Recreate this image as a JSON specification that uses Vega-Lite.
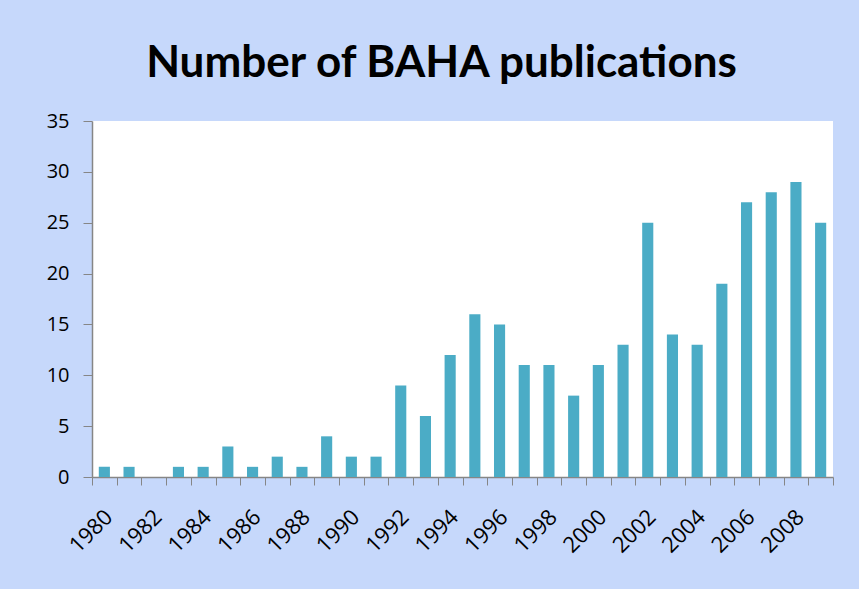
{
  "$schema": "https://vega.github.io/schema/vega-lite/v6.json",
  "width": 741,
  "height": 356,
  "autosize": {"type": "none"},
  "padding": {"left": 92, "top": 121, "right": 26, "bottom": 112},
  "background": "#c6d8fb",
  "title": {
    "text": "Number of BAHA publications",
    "font": "Lato",
    "fontSize": 44,
    "fontWeight": "bold",
    "color": "#000000",
    "anchor": "middle",
    "offset": 25,
    "dx": -21
  },
  "data": {
    "values": [
      {"year": "1980", "count": 1},
      {"year": "1981", "count": 1},
      {"year": "1982", "count": 0},
      {"year": "1983", "count": 1},
      {"year": "1984", "count": 1},
      {"year": "1985", "count": 3},
      {"year": "1986", "count": 1},
      {"year": "1987", "count": 2},
      {"year": "1988", "count": 1},
      {"year": "1989", "count": 4},
      {"year": "1990", "count": 2},
      {"year": "1991", "count": 2},
      {"year": "1992", "count": 9},
      {"year": "1993", "count": 6},
      {"year": "1994", "count": 12},
      {"year": "1995", "count": 16},
      {"year": "1996", "count": 15},
      {"year": "1997", "count": 11},
      {"year": "1998", "count": 11},
      {"year": "1999", "count": 8},
      {"year": "2000", "count": 11},
      {"year": "2001", "count": 13},
      {"year": "2002", "count": 25},
      {"year": "2003", "count": 14},
      {"year": "2004", "count": 13},
      {"year": "2005", "count": 19},
      {"year": "2006", "count": 27},
      {"year": "2007", "count": 28},
      {"year": "2008", "count": 29},
      {"year": "2009", "count": 25}
    ]
  },
  "mark": {"type": "bar", "color": "#4bacc6", "width": {"band": 0.45}},
  "encoding": {
    "x": {
      "field": "year",
      "type": "ordinal",
      "scale": {"paddingInner": 0, "paddingOuter": 0},
      "axis": {
        "title": null,
        "labelExpr": "parseInt(datum.label) % 2 == 0 ? datum.label : ''",
        "labelAngle": -45,
        "labelFont": "Open Sans",
        "labelFontSize": 22,
        "labelColor": "#000000",
        "labelPadding": 21,
        "labelOffset": -3,
        "tickBand": "extent",
        "tickSize": 8,
        "tickColor": "#868686",
        "domainColor": "#868686",
        "domainWidth": 1.5,
        "labelOverlap": false
      }
    },
    "y": {
      "field": "count",
      "type": "quantitative",
      "scale": {"domain": [0, 35], "nice": false},
      "axis": {
        "title": null,
        "values": [0, 5, 10, 15, 20, 25, 30, 35],
        "grid": false,
        "labelFont": "Open Sans",
        "labelFontSize": 20,
        "labelColor": "#000000",
        "labelPadding": 14,
        "tickSize": 9,
        "tickColor": "#868686",
        "domainColor": "#868686",
        "domainWidth": 1.5
      }
    }
  },
  "config": {"view": {"fill": "white", "stroke": null}}
}
